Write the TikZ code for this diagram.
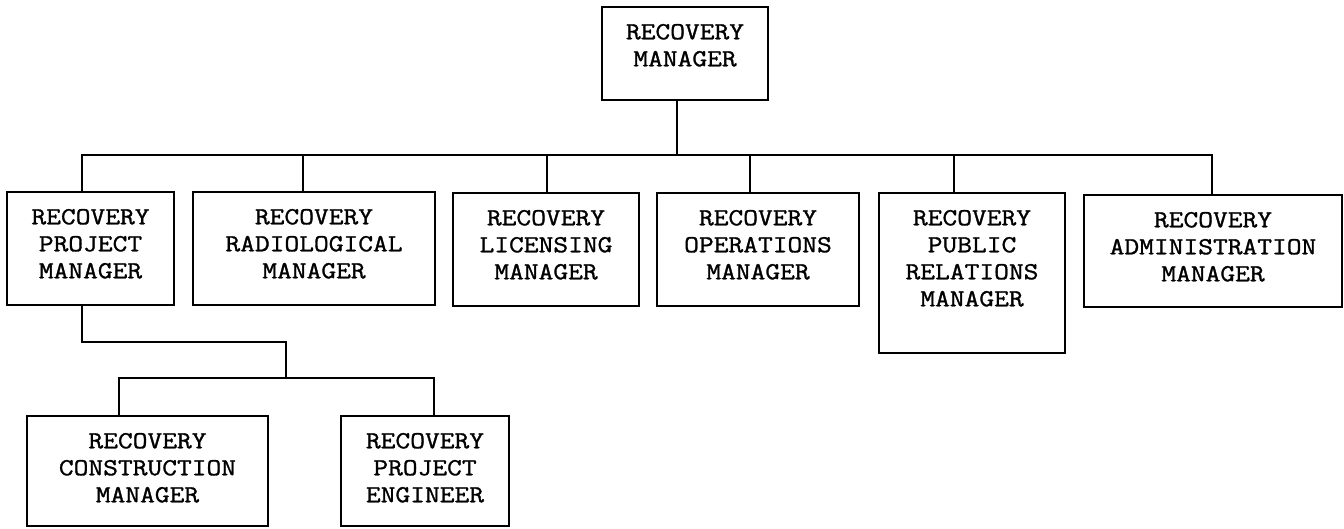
\documentclass[tikz,border=0pt]{standalone}
\usepackage{fontspec}
\newfontfamily\courfont{Latin Modern Mono}[FakeStretch=1.17, FakeBold=1.2]
\tikzset{
  boxst/.style={draw=black, line width=2.8pt, rectangle, inner sep=0pt, outer sep=0pt, fill=none},
  txtst/.style={inner sep=0pt, outer sep=0pt, align=center, font=\courfont\fontsize{24.5}{27}\selectfont, text=black},
  wire/.style={draw=black, line width=2.4pt, line cap=rect}
}
\newcommand\orgbox[6]{%
  \node[boxst, anchor=north west, minimum width={#4-#2}, minimum height={#5-#3}] (#1) at (#2,-#3) {};
  \node[txtst, anchor=north] (#1t) at ([yshift=-17pt]#1.north) {#6};
}
\begin{document}
\begin{tikzpicture}[x=1pt,y=1pt]
\useasboundingbox[fill=white] (0,0) rectangle (1344,-528);
% top
\orgbox{T}{602}{7}{768}{100}{RECOVERY\\MANAGER}
% row
\orgbox{B1}{7}{192}{174}{305}{RECOVERY\\PROJECT\\MANAGER}
\orgbox{B2}{193}{192}{435}{305}{RECOVERY\\RADIOLOGICAL\\MANAGER}
\orgbox{B3}{453}{193}{639}{306}{RECOVERY\\LICENSING\\MANAGER}
\orgbox{B4}{657}{193}{859}{306}{RECOVERY\\OPERATIONS\\MANAGER}
\orgbox{B5}{879}{193}{1065}{353}{RECOVERY\\PUBLIC\\RELATIONS\\MANAGER}
\orgbox{B6}{1084}{195}{1342}{307}{RECOVERY\\ADMINISTRATION\\MANAGER}
% bottom
\orgbox{C1}{27}{416}{268}{526}{RECOVERY\\CONSTRUCTION\\MANAGER}
\orgbox{C2}{341}{416}{509}{526}{RECOVERY\\PROJECT\\ENGINEER}
% bus coordinates
\coordinate (j0) at (677,-155);
\coordinate (v1) at (82,-155);
\coordinate (v2) at (303,-155);
\coordinate (v3) at (547,-155);
\coordinate (v4) at (750,-155);
\coordinate (v5) at (954,-155);
\coordinate (v6) at (1212,-155);
\draw[wire] (j0 |- T.south) -- (j0);
\draw[wire] (v1) -- (v6);
\draw[wire] (v1) -- (v1 |- B1.north);
\draw[wire] (v2) -- (v2 |- B2.north);
\draw[wire] (v3) -- (v3 |- B3.north);
\draw[wire] (v4) -- (v4 |- B4.north);
\draw[wire] (v5) -- (v5 |- B5.north);
\draw[wire] (v6) -- (v6 |- B6.north);
% sub tree
\coordinate (s1) at (82,-342);
\coordinate (s2) at (286,-342);
\coordinate (s3) at (286,-378);
\coordinate (w1) at (119,-378);
\coordinate (w2) at (434,-378);
\draw[wire] (s1 |- B1.south) -- (s1) -- (s2) -- (s3);
\draw[wire] (w1) -- (w2);
\draw[wire] (w1) -- (w1 |- C1.north);
\draw[wire] (w2) -- (w2 |- C2.north);
\end{tikzpicture}
\end{document}
